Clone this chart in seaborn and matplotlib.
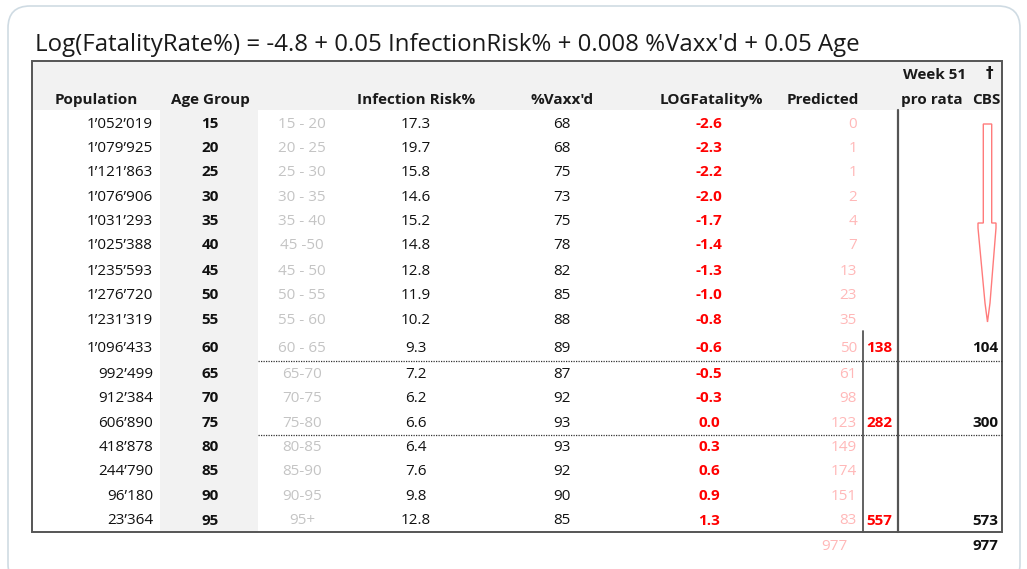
import matplotlib
matplotlib.use("Agg")
import matplotlib.pyplot as plt
from matplotlib.patches import FancyBboxPatch, Rectangle, Polygon
import seaborn as sns

# ---------------- data ----------------
title = "Log(FatalityRate%) = -4.8 + 0.05 InfectionRisk% + 0.008 %Vaxx'd + 0.05 Age"
population = ["1\u2019052\u2019019", "1\u2019079\u2019925", "1\u2019121\u2019863", "1\u2019076\u2019906",
              "1\u2019031\u2019293", "1\u2019025\u2019388", "1\u2019235\u2019593", "1\u2019276\u2019720",
              "1\u2019231\u2019319", "1\u2019096\u2019433", "992\u2019499", "912\u2019384", "606\u2019890",
              "418\u2019878", "244\u2019790", "96\u2019180", "23\u2019364"]
age_group = [15, 20, 25, 30, 35, 40, 45, 50, 55, 60, 65, 70, 75, 80, 85, 90, 95]
age_range = ["15 - 20", "20 - 25", "25 - 30", "30 - 35", "35 - 40", "45 -50", "45 - 50",
             "50 - 55", "55 - 60", "60 - 65", "65-70", "70-75", "75-80", "80-85",
             "85-90", "90-95", "95+"]
infection_risk = [17.3, 19.7, 15.8, 14.6, 15.2, 14.8, 12.8, 11.9, 10.2, 9.3, 7.2, 6.2, 6.6,
                  6.4, 7.6, 9.8, 12.8]
vaxxed = [68, 68, 75, 73, 75, 78, 82, 85, 88, 89, 87, 92, 93, 93, 92, 90, 85]
log_fatality = [-2.6, -2.3, -2.2, -2.0, -1.7, -1.4, -1.3, -1.0, -0.8, -0.6, -0.5, -0.3, 0.0,
                0.3, 0.6, 0.9, 1.3]
predicted = [0, 1, 1, 2, 4, 7, 13, 23, 35, 50, 61, 98, 123, 149, 174, 151, 83]
group_end_rows = [9, 12, 16]          # rows where grouped sums are shown
group_pred_sum = [138, 282, 557]
cbs_week51 = [104, 300, 573]
pred_total = 977
cbs_total = 977
headers = ["Population", "Age Group", "Infection Risk%", "%Vaxx'd", "LOGFatality%", "Predicted"]

# ---------------- styling ----------------
sns.set_theme(style="white")
plt.rcParams["font.family"] = ["Open Sans", "DejaVu Sans"]

W, H = 1027, 569
fig = plt.figure(figsize=(W / 100, H / 100), dpi=100)
ax = fig.add_axes([0, 0, 1, 1])
ax.set_xlim(0, W)
ax.set_ylim(H, 0)
ax.axis("off")

# outer rounded frame
ax.add_patch(FancyBboxPatch((8, 6), 1012, 580, boxstyle="round,pad=0,rounding_size=22",
                            fc="white", ec="#cfdbe3", lw=1.2))

ax.text(35, 45, title, fontsize=17.3, family=["Open Sans", "DejaVu Sans"],
        color="#1a1a1a", va="center", ha="left")

L, R, T, B = 32, 1002, 61, 532
# header background
ax.add_patch(Rectangle((L, T), R - L, 49, fc="#f2f2f2", ec="none"))
# age group column background
ax.add_patch(Rectangle((160, 110), 98, B - 110, fc="#f2f2f2", ec="none"))

row_y = [124, 148, 172, 197, 221, 245, 271, 295, 320, 348, 374, 398, 423, 447, 471, 496, 521]

fs = 11
hy = 100
hc = "#1a1a1a"
ax.text(96, hy, headers[0], fontsize=fs, weight="bold", ha="center", va="center", color=hc)
ax.text(210, hy, headers[1], fontsize=fs, weight="bold", ha="center", va="center", color=hc)
ax.text(416, hy, headers[2], fontsize=fs, weight="bold", ha="center", va="center", color=hc)
ax.text(562, hy, headers[3], fontsize=fs, weight="bold", ha="center", va="center", color=hc)
ax.text(711, hy, headers[4], fontsize=fs, weight="bold", ha="center", va="center", color=hc)
ax.text(823, hy, headers[5], fontsize=fs, weight="bold", ha="center", va="center", color=hc)
ax.text(935, 75, "Week 51", fontsize=fs, weight="bold", ha="center", va="center", color=hc)
ax.text(989, 73, "\u2020", fontsize=fs, weight="bold", ha="center", va="center", color=hc,
        family=["DejaVu Sans"])
ax.text(932, hy, "pro rata", fontsize=fs, weight="bold", ha="center", va="center", color=hc)
ax.text(986, hy, "CBS", fontsize=fs, weight="bold", ha="center", va="center", color=hc)

for i, y in enumerate(row_y):
    ax.text(153, y, population[i], fontsize=fs, ha="right", va="center", color="#111111")
    ax.text(210, y, str(age_group[i]), fontsize=fs, weight="bold", ha="center", va="center",
            color="#111111")
    ax.text(302, y, age_range[i], fontsize=fs, ha="center", va="center", color="#c4c4c4")
    ax.text(416, y, f"{infection_risk[i]:.1f}", fontsize=fs, ha="center", va="center",
            color="#111111")
    ax.text(562, y, str(vaxxed[i]), fontsize=fs, ha="center", va="center", color="#111111")
    ax.text(709, y, f"{log_fatality[i]:.1f}", fontsize=fs, weight="bold", ha="center",
            va="center", color="#ff0000")
    ax.text(857, y, str(predicted[i]), fontsize=fs, ha="right", va="center", color="#ffb8b8")

for r, s, c in zip(group_end_rows, group_pred_sum, cbs_week51):
    ax.text(866, row_y[r], str(s), fontsize=fs, weight="bold", ha="left", va="center",
            color="#ff0000")
    ax.text(998, row_y[r], str(c), fontsize=fs, weight="bold", ha="right", va="center",
            color="#111111")

ax.text(847, 546, str(pred_total), fontsize=fs, ha="right", va="center", color="#ffb8b8")
ax.text(998, 546, str(cbs_total), fontsize=fs, weight="bold", ha="right", va="center",
        color="#111111")

# dotted separators
for yy in (361, 435):
    ax.plot([258, R], [yy, yy], ls=(0, (1, 1)), color="#333333", lw=0.9)

# vertical lines
ax.plot([863, 863], [331, B], color="#555555", lw=1.3)
ax.plot([898, 898], [110, B], color="#555555", lw=1.6)

# table border
ax.add_patch(Rectangle((L, T), R - L, B - T, fc="none", ec="#555555", lw=1.4))

# arrow outline
arrow = [(983.3, 124), (991.7, 124), (991.7, 223), (996, 223), (996, 228), (990, 303),
         (987.5, 322), (985, 303), (978, 228), (978, 223), (983.3, 223)]
ax.add_patch(Polygon(arrow, closed=True, fc="white", ec="#ff7b7b", lw=1.0))

fig.savefig("out.png", dpi=100)
